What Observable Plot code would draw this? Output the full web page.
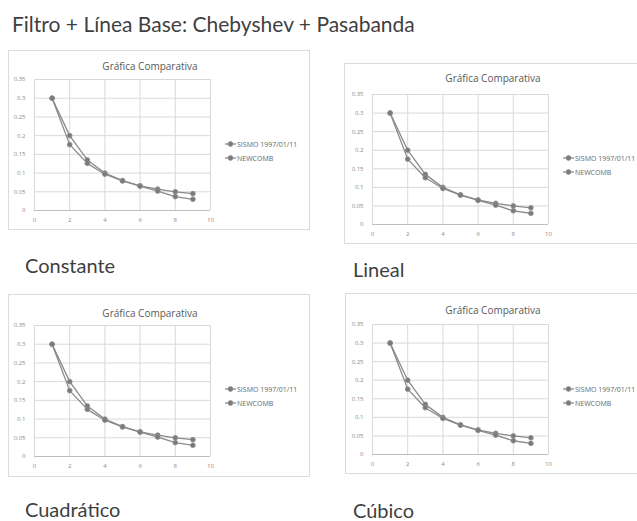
<!DOCTYPE html>
<html>
<head>
<meta charset="utf-8">
<script src="https://cdn.jsdelivr.net/npm/d3@7"></script>
<script src="https://cdn.jsdelivr.net/npm/@observablehq/plot@0.6"></script>
<style>
  html, body { margin: 0; padding: 0; background: #fff; }
  body { width: 637px; height: 521px; overflow: hidden; position: relative; font-family: "Open Sans", sans-serif; }
  .abs { position: absolute; white-space: nowrap; }
  .main-title { font-family: Lato, sans-serif; font-size: 21px; line-height: 21px; color: #3f3f3f; }
  .panel-label { font-family: Lato, sans-serif; font-size: 20px; line-height: 20px; color: #3f3f3f; }
  .box { border: 1px solid #dcdcdc; box-sizing: border-box; background: #fff; }
  .ctitle { font-size: 10px; line-height: 12px; color: #595959; text-align: center; width: 200px; }
  .leg { font-size: 7px; color: #666; display: flex; align-items: center; }
  .leg svg { margin-right: 1px; }
</style>
</head>
<body>
<script>
// ---- data ----
const xValues = [1, 2, 3, 4, 5, 6, 7, 8, 9];
const sismoValues = [0.3, 0.2, 0.135, 0.1, 0.08, 0.066, 0.057, 0.05, 0.045];
const newcombValues = [0.3, 0.176, 0.126, 0.097, 0.079, 0.065, 0.052, 0.037, 0.03];
const seriesNames = ["SISMO 1997/01/11", "NEWCOMB"];
const xTicks = [0, 2, 4, 6, 8, 10];
const yTicks = [0, 0.05, 0.1, 0.15, 0.2, 0.25, 0.3, 0.35];
const mainTitle = "Filtro + Línea Base: Chebyshev + Pasabanda";
const chartTitle = "Gráfica Comparativa";
const panelLabels = ["Constante", "Lineal", "Cuadrático", "Cúbico"];

const rows = [];
xValues.forEach((x, i) => {
  rows.push({x, y: sismoValues[i], series: seriesNames[0]});
  rows.push({x, y: newcombValues[i], series: seriesNames[1]});
});

function add(el) { document.body.appendChild(el); return el; }
function div(cls, text, css) {
  const d = document.createElement("div");
  d.className = "abs " + cls;
  if (text != null) d.textContent = text;
  Object.assign(d.style, css);
  return add(d);
}

div("main-title", mainTitle, {left: "12px", top: "13px"});

const panels = [
  {left: 8,   top: 50,  w: 302, h: 180, mL: 25, mT: 29, mB: 20, titleCx: 150, titleTop: 60,  legX: 225, legY: 144, label: 0, labX: 25,  labTop: 255},
  {left: 344, top: 63,  w: 302, h: 181, mL: 27, mT: 31, mB: 20, titleCx: 493, titleTop: 72,  legX: 563, legY: 158, label: 1, labX: 353, labTop: 259},
  {left: 8,   top: 294, w: 302, h: 183, mL: 25, mT: 31, mB: 21, titleCx: 150, titleTop: 307, legX: 225, legY: 389, label: 2, labX: 25,  labTop: 499},
  {left: 345, top: 293, w: 302, h: 181, mL: 26, mT: 31, mB: 20, titleCx: 493, titleTop: 304, legX: 563, legY: 389, label: 3, labX: 353, labTop: 500}
];

const fmt = d => String(+d.toFixed(2));

panels.forEach(p => {
  const box = div("box", null, {left: p.left + "px", top: p.top + "px", width: p.w + "px", height: p.h + "px"});
  const plotW = 176;
  const chart = Plot.plot({
    width: p.w - 2,
    height: p.h - 2,
    marginLeft: p.mL,
    marginTop: p.mT - 1,
    marginBottom: p.mB - 1,
    marginRight: p.w - 2 - p.mL - plotW,
    style: {fontFamily: "Open Sans, sans-serif", fontSize: "6px", color: "#8a8a8a", background: "transparent"},
    x: {domain: [0, 10], ticks: xTicks, tickSize: 0, tickPadding: 7, tickFormat: fmt, label: null},
    y: {domain: [0, 0.35], ticks: yTicks, tickSize: 0, tickPadding: 9, tickFormat: fmt, label: null},
    marks: [
      Plot.ruleX(xTicks, {stroke: "#d9d9d9", strokeWidth: 1}),
      Plot.ruleY(yTicks, {stroke: "#d9d9d9", strokeWidth: 1}),
      Plot.ruleY([0], {stroke: "#bfbfbf", strokeWidth: 1}),
      Plot.line(rows, {x: "x", y: "y", z: "series", stroke: "#8a8a8a", strokeWidth: 1.3}),
      Plot.dot(rows, {x: "x", y: "y", r: 2.4, fill: "#7a7a7a", stroke: "#8f8f8f", strokeWidth: 0.8})
    ]
  });
  chart.style.position = "absolute";
  chart.style.left = "0px";
  chart.style.top = "0px";
  box.appendChild(chart);

  div("ctitle", chartTitle, {left: (p.titleCx - 100) + "px", top: p.titleTop + "px"});

  seriesNames.forEach((name, i) => {
    const lg = div("leg", null, {left: p.legX + "px", top: (p.legY + i * 14 - 5) + "px", height: "10px"});
    const ns = "http://www.w3.org/2000/svg";
    const s = document.createElementNS(ns, "svg");
    s.setAttribute("width", "11"); s.setAttribute("height", "10");
    const ln = document.createElementNS(ns, "line");
    ln.setAttribute("x1", "0"); ln.setAttribute("x2", "11"); ln.setAttribute("y1", "5"); ln.setAttribute("y2", "5");
    ln.setAttribute("stroke", "#8a8a8a"); ln.setAttribute("stroke-width", "1.3");
    const c = document.createElementNS(ns, "circle");
    c.setAttribute("cx", "5.5"); c.setAttribute("cy", "5"); c.setAttribute("r", "2.4");
    c.setAttribute("fill", "#7a7a7a"); c.setAttribute("stroke", "#8f8f8f"); c.setAttribute("stroke-width", "0.8");
    s.appendChild(ln); s.appendChild(c);
    lg.appendChild(s);
    const t = document.createElement("span");
    t.textContent = name;
    lg.appendChild(t);
  });

  div("panel-label", panelLabels[p.label], {left: p.labX + "px", top: p.labTop + "px"});
});
</script>
</body>
</html>
